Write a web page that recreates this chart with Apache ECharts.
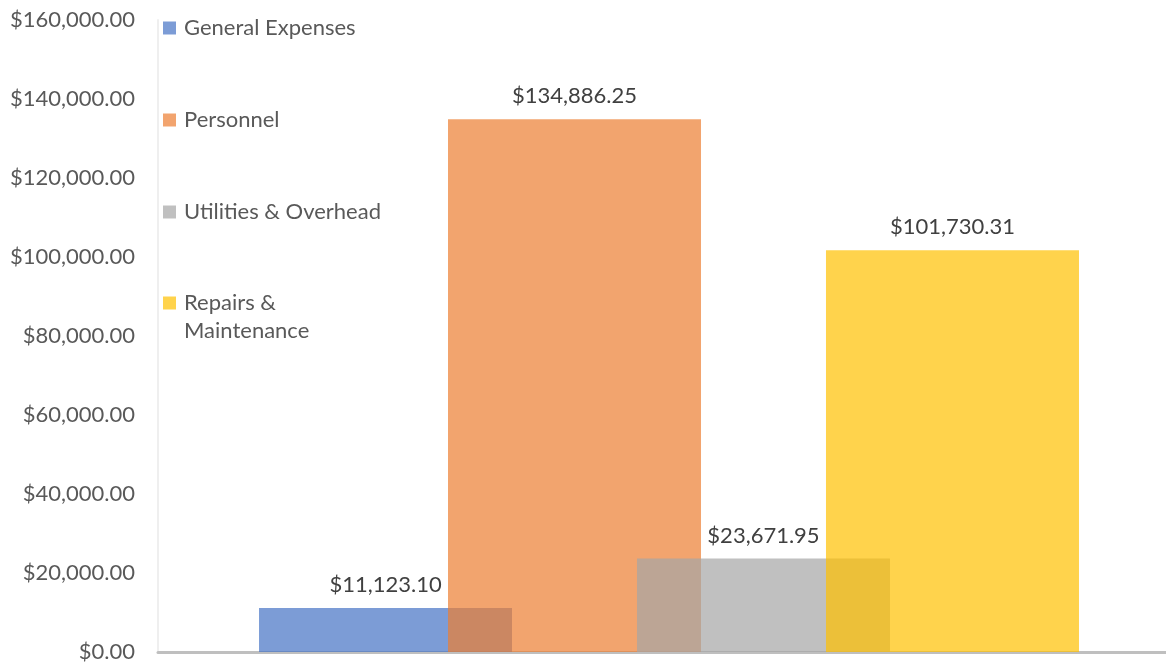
<!DOCTYPE html>
<html>
<head>
<meta charset="utf-8">
<script src="https://cdn.jsdelivr.net/npm/echarts@6/dist/echarts.min.js"></script>
<style>
  html, body { margin: 0; padding: 0; background: #fff; }
  #chart { width: 1166px; height: 663px; }
</style>
</head>
<body>
<div id="chart"></div>
<script>
var seriesNames = ['General Expenses', 'Personnel', 'Utilities & Overhead', 'Repairs & Maintenance'];
var seriesValues = [11123.10, 134886.25, 23671.95, 101730.31];
var seriesColors = ['rgba(68,114,196,0.7)', 'rgba(237,125,49,0.7)', 'rgba(165,165,165,0.7)', 'rgba(255,192,0,0.7)'];
var yTicks = [0, 160000, 20000]; // min, max, interval

function money(v) {
  return '$' + Number(v).toLocaleString('en-US', { minimumFractionDigits: 2, maximumFractionDigits: 2 });
}

var FONT = 'Lato';
var myChart = echarts.init(document.getElementById('chart'));

var series = seriesNames.map(function (name, i) {
  return {
    name: name,
    type: 'bar',
    data: [seriesValues[i]],
    barWidth: 253,
    barGap: '-25.3%',
    itemStyle: { color: seriesColors[i] },
    label: {
      show: true,
      position: 'top',
      distance: 12,
      color: '#404040',
      fontFamily: FONT,
      fontSize: 22,
      formatter: function (p) { return money(p.value); }
    }
  };
});

var option = {
  animation: false,
  textStyle: { fontFamily: FONT },
  grid: { left: 158, right: -14, top: 20, bottom: 11, containLabel: false, outerBoundsMode: 'none' },
  legend: [{
    orient: 'vertical',
    left: 163,
    top: 14,
    padding: 0,
    itemWidth: 13,
    itemHeight: 13,
    itemGap: 64,
    icon: 'rect',
    data: seriesNames.slice(0, 3),
    textStyle: { color: '#595959', fontSize: 22, fontFamily: FONT, lineHeight: 28, padding: [0, 0, 0, 3] }
  }, {
    orient: 'vertical',
    left: 163,
    top: 261,
    padding: 0,
    itemWidth: 13,
    itemHeight: 13,
    icon: 'rect',
    data: seriesNames.slice(3),
    formatter: function () { return '\nRepairs &\nMaintenance'; },
    textStyle: { color: '#595959', fontSize: 22, fontFamily: FONT, lineHeight: 28, padding: [0, 0, 0, 3] }
  }],
  xAxis: {
    type: 'category',
    data: [''],
    axisTick: { show: false },
    axisLabel: { show: false },
    axisLine: { lineStyle: { color: '#bfbfbf', width: 3 } }
  },
  yAxis: {
    type: 'value',
    min: yTicks[0],
    max: yTicks[1],
    interval: yTicks[2],
    splitLine: { show: false },
    axisTick: { show: false },
    axisLine: { show: true, lineStyle: { color: '#efefef', width: 2 } },
    axisLabel: {
      color: '#595959',
      fontFamily: FONT,
      fontSize: 22,
      margin: 23,
      formatter: function (v) { return money(v); }
    }
  },
  series: series
};
myChart.setOption(option);
</script>
</body>
</html>
